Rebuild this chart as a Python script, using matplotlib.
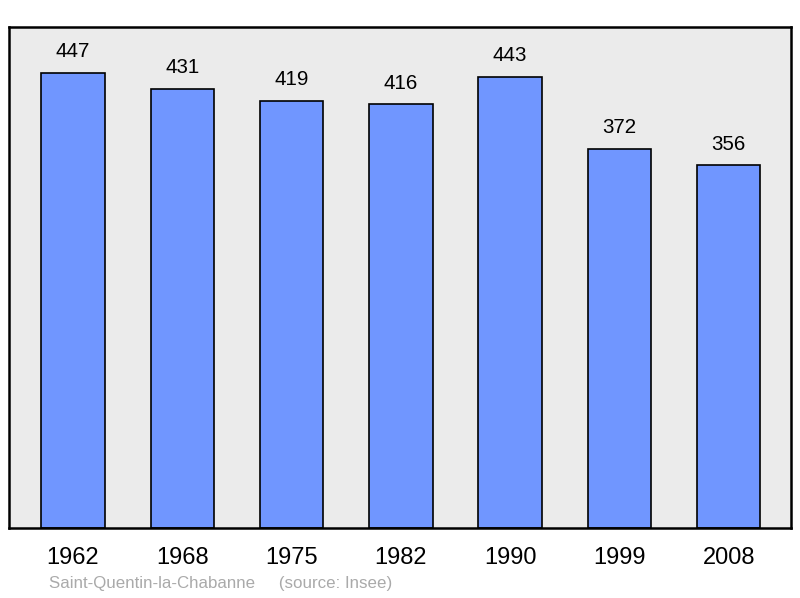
import matplotlib
matplotlib.use("Agg")
import matplotlib.pyplot as plt

plt.rcParams['font.family'] = ['Liberation Sans', 'DejaVu Sans']

years = ["1962", "1968", "1975", "1982", "1990", "1999", "2008"]
population = [447, 431, 419, 416, 443, 372, 356]

fig = plt.figure(figsize=(8, 5.98), dpi=100)
ax = fig.add_axes([0.01125, 0.117, 0.9775, 0.838])
ax.set_facecolor("#ebebeb")

x = range(len(years))
ax.bar(x, population, width=0.58, color="#7096ff", edgecolor="black", linewidth=1.2)
for i, v in zip(x, population):
    ax.annotate(str(v), (i, v), xytext=(0, 8.5), textcoords="offset points",
                ha="center", va="bottom", fontsize=14.8)

ax.set_xlim(-0.585, 6.57)
ax.set_ylim(0, 492)
ax.set_yticks([])
ax.set_xticks(list(x))
ax.set_xticklabels(years, fontsize=17)
ax.tick_params(axis="x", length=0, pad=14)
for s in ax.spines.values():
    s.set_linewidth(1.8)

fig.text(0.061, 0.012, "Saint-Quentin-la-Chabanne     (source: Insee)",
         color="#aaaaaa", fontsize=12.2, ha="left", va="bottom")

fig.savefig("out.png", dpi=100)
